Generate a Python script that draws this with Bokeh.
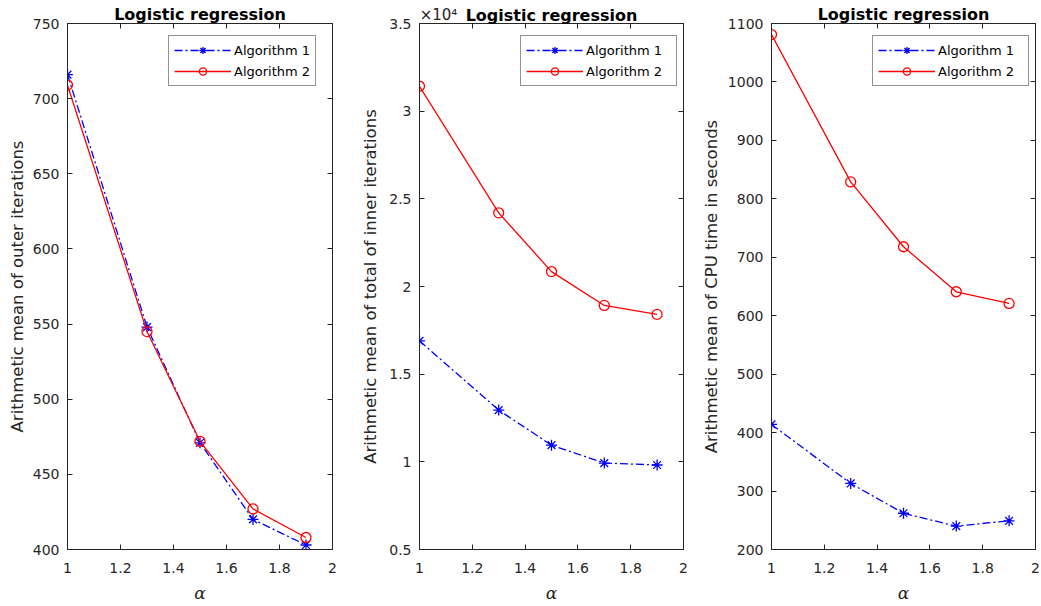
from bokeh.plotting import figure
from bokeh.layouts import row
from bokeh.models import (Range1d, FixedTicker, LinearAxis, Legend,
                          LegendItem, CustomJSTickFormatter)
from bokeh.embed import file_html
from bokeh.resources import INLINE

# ---------------- data ----------------
alpha = [1.0, 1.3, 1.5, 1.7, 1.9]
series_names = ["Algorithm 1", "Algorithm 2"]

outer_alg1 = [716, 548, 471, 420, 403]
outer_alg2 = [709, 545, 472, 427, 408]

inner_alg1 = [16900, 12950, 10950, 9930, 9820]
inner_alg2 = [31420, 24200, 20850, 18920, 18410]

cpu_alg1 = [414, 313, 262, 240, 249]
cpu_alg2 = [1081, 829, 718, 641, 621]

x_ticks = [1, 1.2, 1.4, 1.6, 1.8, 2]
outer_ticks = [400, 450, 500, 550, 600, 650, 700, 750]
inner_ticks = [5000, 10000, 15000, 20000, 25000, 30000, 35000]
cpu_ticks = [200, 300, 400, 500, 600, 700, 800, 900, 1000, 1100]

title_text = "Logistic regression"
x_label = "α"
y_labels = ["Arithmetic mean of outer iterations",
            "Arithmetic mean of total of inner iterations",
            "Arithmetic mean of CPU time in seconds"]
exponent_text = "×10⁴"

AX = "#262626"
FONT = "DejaVu Sans"
H = 605
TOP = 23
BOTTOM = 55
FRAME_H = H - TOP - BOTTOM


def fmt(scale):
    return CustomJSTickFormatter(args=dict(scale=scale),
                                 code="return String(Math.round(tick / scale * 10) / 10);")


def style_axis(ax, labels=True):
    ax.axis_line_color = AX
    ax.axis_line_width = 1
    ax.major_tick_line_color = AX
    ax.major_tick_line_width = 1
    ax.major_tick_in = 5
    ax.major_tick_out = 0
    ax.minor_tick_line_color = None
    if labels:
        ax.major_label_text_font = FONT
        ax.major_label_text_font_size = "14px"
        ax.major_label_text_color = AX
    else:
        ax.major_label_text_color = None
        ax.major_label_text_font_size = "0px"
        ax.major_label_standoff = 0
        ax.axis_label_standoff = 0


def make_panel(y1, y2, yticks, ylabel, scale, width, bl, br, lab_standoff,
               leg_label_width, exponent=None):
    frame_w = width - bl - br
    p = figure(width=width, height=H, output_backend="svg", toolbar_location=None,
               x_range=Range1d(x_ticks[0], x_ticks[-1]),
               y_range=Range1d(yticks[0], yticks[-1]),
               min_border_left=bl, min_border_right=br,
               min_border_top=TOP, min_border_bottom=BOTTOM,
               background_fill_color="white", border_fill_color="white")

    p.xgrid.visible = False
    p.ygrid.visible = False
    p.outline_line_color = AX
    p.outline_line_width = 1

    xt = FixedTicker(ticks=x_ticks)
    yt = FixedTicker(ticks=yticks)

    p.xaxis.ticker = xt
    p.xaxis.formatter = fmt(1)
    style_axis(p.xaxis[0])
    p.xaxis.major_label_standoff = 13
    p.xaxis.axis_label = x_label
    p.xaxis.axis_label_text_font = "DejaVu Serif"
    p.xaxis.axis_label_text_font_style = "italic"
    p.xaxis.axis_label_text_font_size = "17px"
    p.xaxis.axis_label_text_color = AX
    p.xaxis.axis_label_standoff = 7

    p.yaxis.ticker = yt
    p.yaxis.formatter = fmt(scale)
    style_axis(p.yaxis[0])
    p.yaxis.major_label_standoff = 8
    p.yaxis.axis_label = ylabel
    p.yaxis.axis_label_text_font = FONT
    p.yaxis.axis_label_text_font_style = "normal"
    p.yaxis.axis_label_text_font_size = "16.5px"
    p.yaxis.axis_label_text_color = AX
    p.yaxis.axis_label_standoff = lab_standoff

    # box ticks on top and right
    top = LinearAxis(ticker=xt)
    style_axis(top, labels=False)
    p.add_layout(top, "above")
    right = LinearAxis(ticker=yt)
    style_axis(right, labels=False)
    p.add_layout(right, "right")

    # title row above the box (title + optional exponent marker)
    if exponent:
        ex_w = 38.0  # approximate width of the exponent text in px
        ex_pos = x_ticks[0] + (ex_w / 2) / frame_w * (x_ticks[-1] - x_ticks[0])
        tl = LinearAxis(ticker=FixedTicker(ticks=[ex_pos]),
                        formatter=CustomJSTickFormatter(args=dict(t=exponent),
                                                        code="return t;"))
        tl.major_label_text_font = FONT
        tl.major_label_text_font_size = "15px"
        tl.major_label_text_color = AX
        tl_standoff = -22
    else:
        tl = LinearAxis(ticker=FixedTicker(ticks=[]))
        tl.major_label_text_color = None
        tl.major_label_text_font_size = "0px"
        tl_standoff = 0
    tl.axis_line_color = None
    tl.major_tick_line_color = None
    tl.minor_tick_line_color = None
    tl.major_tick_in = 0
    tl.major_tick_out = 0
    tl.minor_tick_in = 0
    tl.minor_tick_out = 0
    tl.major_label_standoff = 0
    tl.axis_label = title_text
    tl.axis_label_text_font = FONT
    tl.axis_label_text_font_style = "bold"
    tl.axis_label_text_font_size = "16px"
    tl.axis_label_text_color = "#000000"
    tl.axis_label_standoff = tl_standoff
    p.add_layout(tl, "above")

    r1l = p.line(alpha, y1, line_color="#0000FF", line_width=1.3, line_dash="8 3 2 3")
    r1m = p.scatter(alpha, y1, marker="asterisk", size=11, line_color="#0000FF",
                    line_width=1.3)
    r2l = p.line(alpha, y2, line_color="#FF0000", line_width=1.3)
    r2m = p.scatter(alpha, y2, marker="circle", size=10, line_color="#FF0000",
                    fill_color=None, line_width=1.3)

    legend = Legend(items=[LegendItem(label=series_names[0], renderers=[r1l, r1m]),
                           LegendItem(label=series_names[1], renderers=[r2l, r2m])],
                    location=(101, FRAME_H - 64), margin=0, padding=5, spacing=3,
                    glyph_width=57, glyph_height=18, label_height=18,
                    label_width=leg_label_width, label_standoff=3,
                    label_text_font=FONT, label_text_font_size="13px",
                    label_text_color="#000000", label_text_baseline="middle",
                    border_line_color=AX, border_line_width=1,
                    background_fill_color="white", background_fill_alpha=1)
    p.add_layout(legend)
    return p


p1 = make_panel(outer_alg1, outer_alg2, outer_ticks, y_labels[0], 1,
                354, 67, 22, 3, 75)
p2 = make_panel(inner_alg1, inner_alg2, inner_ticks, y_labels[1], 1e4,
                338, 65, 9, 6, 85, exponent=exponent_text)
p3 = make_panel(cpu_alg1, cpu_alg2, cpu_ticks, y_labels[2], 1,
                348, 79, 5, 4, 85)

layout = row(p1, p2, p3)
open("out.html", "w").write(file_html(layout, INLINE))
